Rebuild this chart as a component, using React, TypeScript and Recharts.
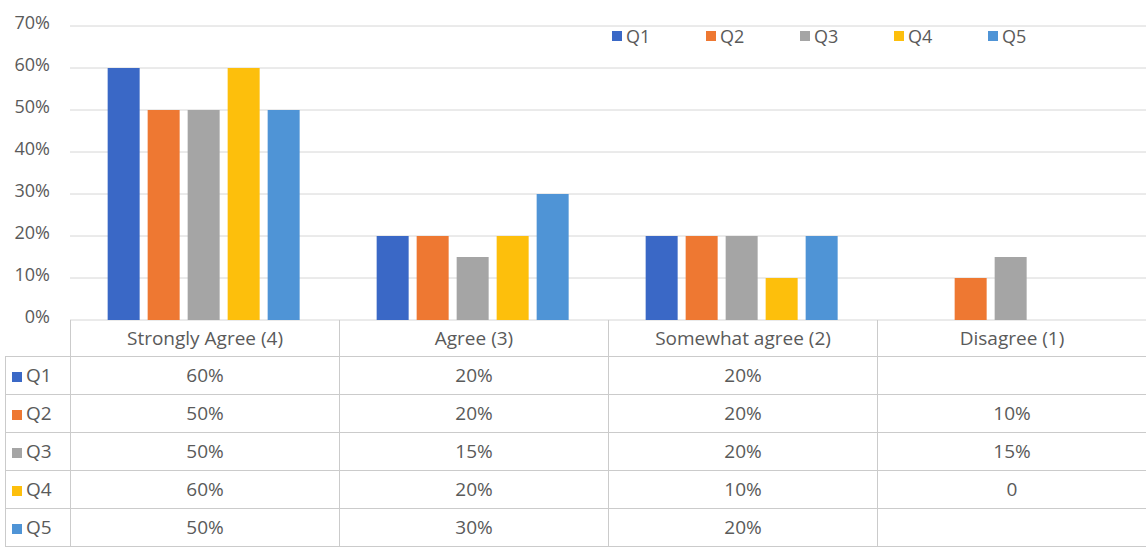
import React from "react";
import { BarChart, Bar, XAxis, YAxis, CartesianGrid } from "recharts";

const categories = [
  "Strongly Agree (4)",
  "Agree (3)",
  "Somewhat agree (2)",
  "Disagree (1)",
];
const seriesNames = ["Q1", "Q2", "Q3", "Q4", "Q5"];
const q1 = [60, 20, 20, null];
const q2 = [50, 20, 20, 10];
const q3 = [50, 15, 20, 15];
const q4 = [60, 20, 10, 0];
const q5 = [50, 30, 20, null];
const yTicks = [0, 10, 20, 30, 40, 50, 60, 70];

const colors = ["#3a68c6", "#ee7832", "#a5a5a5", "#fdbf0c", "#4f94d6"];
const allSeries = [q1, q2, q3, q4, q5];

const data = categories.map((name, i) => ({
  name,
  Q1: q1[i],
  Q2: q2[i],
  Q3: q3[i],
  Q4: q4[i],
  Q5: q5[i],
}));

const fmt = (v: number | null) => (v === null ? "" : v === 0 ? "0" : `${v}%`);

const font = "'Open Sans', 'Noto Sans', sans-serif";
const textColor = "#5a5a5a";
const border = "1px solid #cbcbcb";

const App = () => {
  return (
    <div
      style={{
        position: "absolute",
        left: 0,
        top: 0,
        width: 1146,
        height: 555,
        background: "#fff",
        fontFamily: font,
        color: textColor,
      }}
    >
      <BarChart
        width={1146}
        height={350}
        data={data}
        margin={{ top: 26, right: 0, left: 0, bottom: 30 }}
        barCategoryGap="14%"
        barGap={8}
      >
        <CartesianGrid vertical={false} stroke="#d6d6d6" />
        <XAxis dataKey="name" hide />
        <YAxis
          width={70}
          domain={[0, 70]}
          ticks={yTicks}
          interval={0}
          tickFormatter={(v) => `${v}%`}
          axisLine={false}
          tickLine={false}
          tickMargin={14}
          tick={{ fill: textColor, fontSize: 18, fontFamily: font, dy: -3 }}
        />
        {seriesNames.map((s, i) => (
          <Bar key={s} dataKey={s} fill={colors[i]} isAnimationActive={false} />
        ))}
      </BarChart>

      {/* legend */}
      <div style={{ position: "absolute", top: 24, left: 612, display: "flex" }}>
        {seriesNames.map((s, i) => (
          <div
            key={s}
            style={{ width: 94, display: "flex", alignItems: "center", fontSize: 18 }}
          >
            <span
              style={{
                display: "inline-block",
                width: 10,
                height: 10,
                background: colors[i],
                marginRight: 4,
              }}
            />
            {s}
          </div>
        ))}
      </div>

      {/* data table */}
      <table
        style={{
          position: "absolute",
          top: 320,
          left: 5,
          borderCollapse: "collapse",
          tableLayout: "fixed",
          width: 1141,
          fontSize: 19,
          fontFamily: font,
          color: textColor,
        }}
      >
        <colgroup>
          <col style={{ width: 65 }} />
          {categories.map((c) => (
            <col key={c} style={{ width: 269 }} />
          ))}
        </colgroup>
        <tbody>
          <tr style={{ height: 36 }}>
            <td style={{ borderRight: border, borderBottom: border }} />
            {categories.map((c) => (
              <td
                key={c}
                style={{ border, textAlign: "center", padding: 0, borderTop: "none" }}
              >
                {c}
              </td>
            ))}
          </tr>
          {seriesNames.map((s, i) => (
            <tr key={s} style={{ height: 38 }}>
              <td style={{ border, padding: "0 0 0 6px", whiteSpace: "nowrap" }}>
                <span
                  style={{
                    display: "inline-block",
                    width: 10,
                    height: 10,
                    background: colors[i],
                    marginRight: 4,
                  }}
                />
                {s}
              </td>
              {allSeries[i].map((v, j) => (
                <td key={j} style={{ border, textAlign: "center", padding: 0 }}>
                  {fmt(v)}
                </td>
              ))}
            </tr>
          ))}
        </tbody>
      </table>
    </div>
  );
};

export default App;
